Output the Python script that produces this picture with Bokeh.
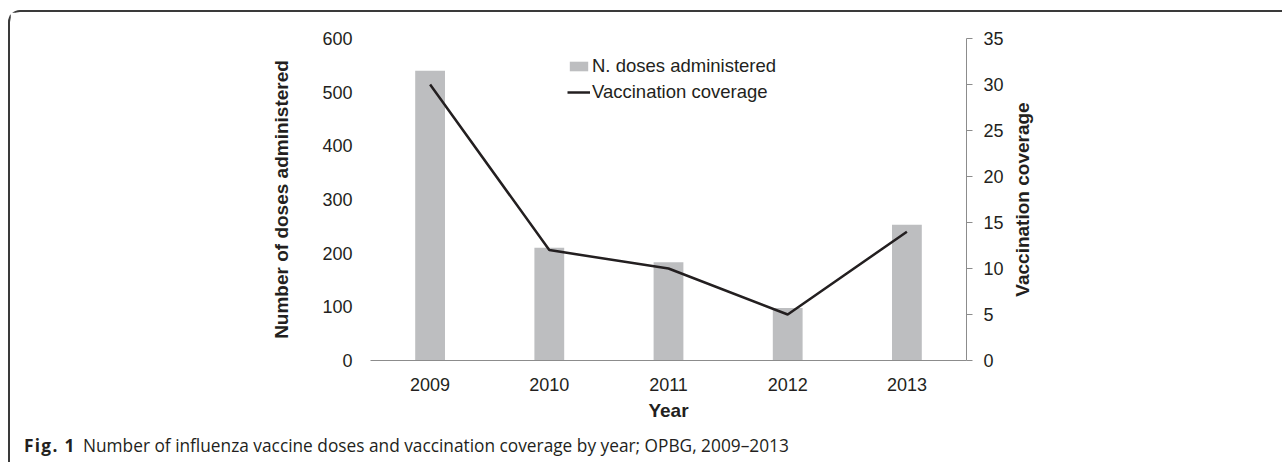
from bokeh.plotting import figure
from bokeh.layouts import column, row
from bokeh.models import (Range1d, LinearAxis, FixedTicker, Label, Legend,
                          LegendItem, FactorRange, Div)
from bokeh.embed import file_html
from bokeh.resources import INLINE

# ---- data ----
years = ["2009", "2010", "2011", "2012", "2013"]
doses = [540, 210, 183, 98, 253]
coverage = [30, 12, 10, 5, 14]
dose_ticks = [0, 100, 200, 300, 400, 500, 600]
cov_ticks = [0, 5, 10, 15, 20, 25, 30, 35]
caption_bold = "Fig. 1"
caption_text = ("Number of influenza vaccine doses and vaccination coverage "
                "by year; OPBG, 2009\u20132013")

TXT = "#231f20"
AX = "#8c8c8c"
FONT = "Liberation Sans"

H = 414
PW = 996
p = figure(width=PW, height=H,
           x_range=FactorRange(*years, range_padding=0),
           y_range=Range1d(0, 600),
           output_backend="svg", toolbar_location=None,
           min_border_left=360, min_border_right=40,
           min_border_top=26, min_border_bottom=66)
p.extra_y_ranges = {"cov": Range1d(0, 35)}
p.outline_line_color = None
p.xgrid.grid_line_color = None
p.ygrid.grid_line_color = None
p.background_fill_color = "white"
p.border_fill_color = "white"

bars = p.vbar(x=years, top=doses, width=0.25, fill_color="#bdbec0",
              line_color=None)
line = p.line(x=years, y=coverage, y_range_name="cov", line_color=TXT,
              line_width=2.5)

# x axis
xa = p.xaxis[0]
xa.axis_line_color = AX
xa.axis_line_width = 1
xa.major_tick_line_color = None
xa.minor_tick_line_color = None
xa.major_tick_out = 0
xa.major_tick_in = 0
xa.major_label_standoff = 17
xa.major_label_text_font = FONT
xa.major_label_text_font_size = "18px"
xa.major_label_text_color = TXT
xa.axis_label = "Year"
xa.axis_label_text_font = FONT
xa.axis_label_text_font_size = "19px"
xa.axis_label_text_font_style = "bold"
xa.axis_label_text_color = TXT
xa.axis_label_standoff = 6

# left axis
ya = p.yaxis[0]
ya.ticker = FixedTicker(ticks=dose_ticks)
ya.axis_line_color = None
ya.major_tick_line_color = None
ya.minor_tick_line_color = None
ya.major_tick_out = 0
ya.major_tick_in = 0
ya.major_label_standoff = 18
ya.major_label_text_font = FONT
ya.major_label_text_font_size = "18px"
ya.major_label_text_color = TXT
ya.axis_label = "Number of doses administered"
ya.axis_label_text_font = FONT
ya.axis_label_text_font_size = "19px"
ya.axis_label_text_font_style = "bold"
ya.axis_label_text_color = TXT
ya.axis_label_standoff = 27

# right axis
ra = LinearAxis(y_range_name="cov", ticker=FixedTicker(ticks=cov_ticks))
ra.axis_line_color = AX
ra.major_tick_line_color = AX
ra.minor_tick_line_color = None
ra.major_tick_out = 6
ra.major_tick_in = 0
ra.major_label_standoff = 11
ra.major_label_text_font = FONT
ra.major_label_text_font_size = "18px"
ra.major_label_text_color = TXT
p.add_layout(ra, "right")

# legend
legend = Legend(items=[LegendItem(label="N. doses administered", renderers=[bars]),
                       LegendItem(label="Vaccination coverage", renderers=[line])],
                location=(197, 257), orientation="vertical",
                background_fill_alpha=0, border_line_color=None,
                padding=0, margin=0, spacing=4,
                glyph_width=23, glyph_height=12, label_height=20,
                label_standoff=2,
                label_text_font=FONT, label_text_font_size="18.5px",
                label_text_color=TXT)
p.add_layout(legend)

# right axis title strip (reads bottom-to-top)
RW = 60
rfig = figure(width=RW, height=H, x_range=Range1d(0, RW), y_range=Range1d(0, 1),
              output_backend="svg", toolbar_location=None,
              x_axis_location=None, y_axis_location=None,
              min_border_left=0, min_border_right=0,
              min_border_top=26, min_border_bottom=66)
rfig.grid.visible = False
rfig.outline_line_color = None
rfig.border_fill_color = "white"
rfig.add_layout(Label(x=15.7, y=0.5, text="Vaccination coverage", angle=90,
                      angle_units="deg", text_align="center",
                      text_baseline="middle", text_font=FONT,
                      text_font_size="19px", text_font_style="bold",
                      text_color=TXT))

# caption
cap = Div(width=1262, height=34,
          text=('<div style="padding:5px 0 0 9px; white-space:nowrap; '
                'font-family:\'Open Sans\'; font-size:17.3px; color:%s; '
                'line-height:20px;">'
                '<span style="display:inline-block; width:59px; '
                'font-weight:bold; letter-spacing:1.3px;">%s</span>%s</div>'
                % (TXT, caption_bold, caption_text)))

layout = column(row(p, rfig, spacing=0), cap, spacing=0)
layout.styles = {"margin-left": "8px", "margin-top": "10px",
                 "border-left": "2px solid #3a3a3a",
                 "border-top": "2px solid #3a3a3a",
                 "border-top-left-radius": "12px"}

open("out.html", "w").write(file_html(layout, INLINE))
